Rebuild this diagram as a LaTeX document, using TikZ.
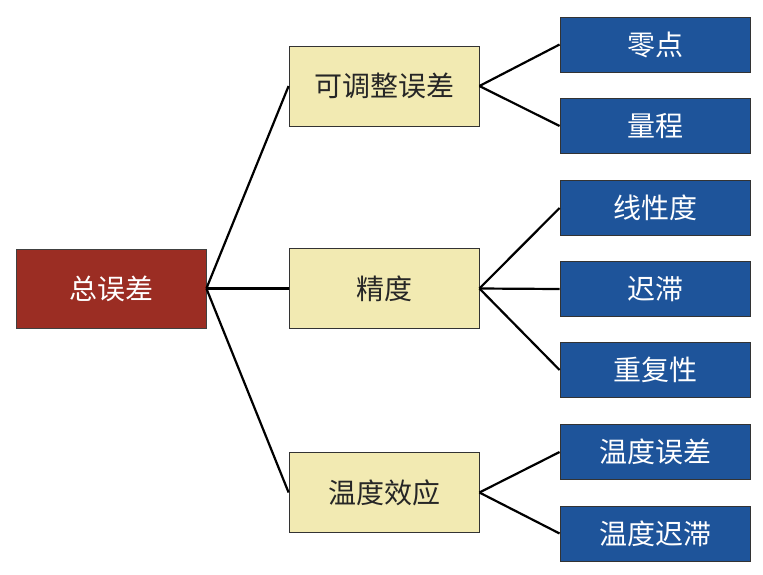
\documentclass[tikz,border=0pt]{standalone}
\usepackage{fontspec}
\setmainfont{Noto Sans CJK SC}
\usetikzlibrary{positioning}

\definecolor{rootred}{RGB}{155,45,35}
\definecolor{paleyellow}{RGB}{242,234,178}
\definecolor{leafblue}{RGB}{30,84,154}

\begin{document}
\begin{tikzpicture}[x=1pt,y=-1pt,
	rootbox/.style={draw=black!75, line width=0.8pt, fill=rootred, text=white,
		minimum width=190pt, minimum height=79pt, font=\fontsize{28}{30}\selectfont},
	midbox/.style={draw=black!80, line width=0.8pt, fill=paleyellow, text=black!85,
		minimum width=190pt, minimum height=80pt, font=\fontsize{28}{30}\selectfont},
	leafbox/.style={draw=black!80, line width=0.8pt, fill=leafblue, text=white,
		minimum width=190pt, minimum height=55pt, font=\fontsize{28}{30}\selectfont},
	link/.style={line width=2.2pt}]
		\useasboundingbox (0,0) rectangle (763,574);
		% root and middle level
		\node[rootbox] (total) at (111,288.5) {总误差};
		\node[midbox] (adjust) at (384,86) {可调整误差};
		\node[midbox] (accuracy) at (384,288.5) {精度};
		\node[midbox] (thermal) at (384,492.5) {温度效应};
		% leaves
		\node[leafbox] (zero) at (655,44.5) {零点};
		\node[leafbox] (span) at (655,126) {量程};
		\node[leafbox] (linear) at (655,208) {线性度};
		\node[leafbox] (hyst) at (655,289) {迟滞};
		\node[leafbox] (repeat) at (655,370) {重复性};
		\node[leafbox] (terr) at (655,452) {温度误差};
		\node[leafbox] (thyst) at (655,533.5) {温度迟滞};
		% connectors
		\foreach \m in {adjust,accuracy,thermal} {
			\draw[link] (total.east) -- (\m.west);
		}
		\foreach \l in {zero,span} {
			\draw[link] (adjust.east) -- (\l.west);
		}
		\foreach \l in {linear,hyst,repeat} {
			\draw[link] (accuracy.east) -- (\l.west);
		}
		\foreach \l in {terr,thyst} {
			\draw[link] (thermal.east) -- (\l.west);
		}
	\end{tikzpicture}
\end{document}
